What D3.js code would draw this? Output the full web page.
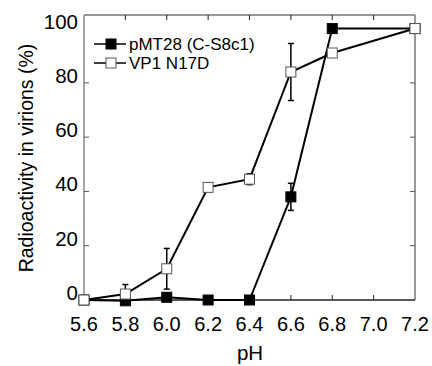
<!DOCTYPE html>
<html>
<head>
<meta charset="utf-8">
<script src="https://cdn.jsdelivr.net/npm/d3@7"></script>
<style>
  body { margin: 0; background: #fff; }
  text { font-family: "Liberation Sans", Arial, sans-serif; fill: #000; }
</style>
</head>
<body>
<div class="chart"></div>
<script>
var phValues = [5.6, 5.8, 6.0, 6.2, 6.4, 6.6, 6.8, 7.2];
var mutantPh = [5.6, 5.8, 6.0, 6.2, 6.4, 6.6, 6.8, 7.2];
var mutantVals = [0, -0.3, 1, 0, 0, 38, 100, 100];
var mutantErr = [0, 0, 0, 0, 0, 5, 0, 0];
var wildVals = [0, 2.2, 11.5, 41.5, 44.5, 84, 91, 100];
var wildErr = [0, 3.5, 7.5, 1.5, 2, 10.5, 0, 0];
var xTicks = [5.6, 5.8, 6.0, 6.2, 6.4, 6.6, 6.8, 7.0, 7.2];
var yTicks = [0, 20, 40, 60, 80, 100];
var seriesNames = ["pMT28 (C-S8c1)", "VP1 N17D"];

(function drawChart() {
	"use strict";
	var width = 432, height = 366;
	var left = 84, right = 415, top = 15, bottom = 300;

	var svg = d3.select(".chart")
				.append("svg")
				.attr("width", width)
				.attr("height", height);

	var xScale = d3.scaleLinear().domain([5.6, 7.2]).range([left, right]);
	var yScale = d3.scaleLinear().domain([0, 105]).range([bottom, top]);

	// frame
	svg.append("line").attr("x1", left).attr("x2", right).attr("y1", top).attr("y2", top)
	   .attr("stroke", "#333").attr("stroke-width", 1.2);
	svg.append("line").attr("x1", right).attr("x2", right).attr("y1", top).attr("y2", bottom)
	   .attr("stroke", "#777").attr("stroke-width", 1.5);
	svg.append("line").attr("x1", left).attr("x2", left).attr("y1", top).attr("y2", bottom)
	   .attr("stroke", "#888").attr("stroke-width", 1.5);
	svg.append("line").attr("x1", left).attr("x2", right).attr("y1", bottom).attr("y2", bottom)
	   .attr("stroke", "#222").attr("stroke-width", 1.5);

	var tickLen = 5;
	// x ticks (bottom + top, inward)
	xTicks.slice(1, -1).forEach(function(t) {
		var x = xScale(t);
		svg.append("line").attr("x1", x).attr("x2", x).attr("y1", bottom).attr("y2", bottom - tickLen)
		   .attr("stroke", "#222").attr("stroke-width", 1);
		svg.append("line").attr("x1", x).attr("x2", x).attr("y1", top).attr("y2", top + tickLen)
		   .attr("stroke", "#222").attr("stroke-width", 1);
	});
	xTicks.forEach(function(t) {
		svg.append("text")
		   .attr("x", xScale(t))
		   .attr("y", 331)
		   .attr("text-anchor", "middle")
		   .style("font-size", "20px")
		   .text(d3.format(".1f")(t));
	});

	// y ticks (left + right, inward)
	yTicks.slice(1, -1).forEach(function(t) {
		var y = yScale(t);
		svg.append("line").attr("x1", left).attr("x2", left + tickLen).attr("y1", y).attr("y2", y)
		   .attr("stroke", "#555").attr("stroke-width", 1);
		svg.append("line").attr("x1", right).attr("x2", right - tickLen).attr("y1", y).attr("y2", y)
		   .attr("stroke", "#555").attr("stroke-width", 1);
	});
	yTicks.forEach(function(t) {
		svg.append("text")
		   .attr("x", 78)
		   .attr("y", yScale(t))
		   .attr("text-anchor", "end")
		   .style("font-size", "20.5px")
		   .text(t);
	});

	svg.append("text")
	   .attr("transform", "translate(33," + 158 + ") rotate(-90)")
	   .attr("text-anchor", "middle")
	   .style("font-size", "19.5px")
	   .text("Radioactivity in virions (%)");

	svg.append("text")
	   .attr("x", 250)
	   .attr("y", 360)
	   .attr("text-anchor", "middle")
	   .style("font-size", "20.5px")
	   .text("pH");

	var line = d3.line()
				 .x(function(d) { return xScale(d[0]); })
				 .y(function(d) { return yScale(d[1]); });

	function drawSeries(xs, vals, errs, fill) {
		var pts = xs.map(function(x, i) { return [x, vals[i], errs[i]]; });
		svg.append("path")
		   .datum(pts)
		   .attr("d", line)
		   .attr("fill", "none")
		   .attr("stroke", "#000")
		   .attr("stroke-width", 2);
		var withErr = pts.filter(function(d) { return d[2] > 0; });
		var g = svg.append("g").attr("stroke", "#000").attr("stroke-width", 1.5);
		g.selectAll("line.v").data(withErr).enter().append("line")
		 .attr("x1", function(d) { return xScale(d[0]); })
		 .attr("x2", function(d) { return xScale(d[0]); })
		 .attr("y1", function(d) { return yScale(d[1] - d[2]); })
		 .attr("y2", function(d) { return yScale(d[1] + d[2]); });
		[1, -1].forEach(function(s) {
			g.selectAll("line.cap" + s).data(withErr).enter().append("line")
			 .attr("x1", function(d) { return xScale(d[0]) - 3; })
			 .attr("x2", function(d) { return xScale(d[0]) + 3; })
			 .attr("y1", function(d) { return yScale(d[1] + s * d[2]); })
			 .attr("y2", function(d) { return yScale(d[1] + s * d[2]); });
		});
		svg.selectAll(null).data(pts).enter().append("rect")
		   .attr("x", function(d) { return xScale(d[0]) - 5; })
		   .attr("y", function(d) { return yScale(d[1]) - 5; })
		   .attr("width", 10)
		   .attr("height", 10)
		   .attr("fill", fill)
		   .attr("stroke", fill === "#000" ? "#000" : "#555")
		   .attr("stroke-width", 1);
	}

	drawSeries(mutantPh, mutantVals, mutantErr, "#000");
	drawSeries(phValues, wildVals, wildErr, "#fff");

	// legend
	var legend = svg.append("g");
	seriesNames.forEach(function(name, i) {
		var y = 44 + i * 19;
		legend.append("line").attr("x1", 94).attr("x2", 126).attr("y1", y).attr("y2", y)
			  .attr("stroke", "#000").attr("stroke-width", 1.5);
		legend.append("rect").attr("x", 106).attr("y", y - 5).attr("width", 10).attr("height", 10)
			  .attr("fill", i === 0 ? "#000" : "#fff")
			  .attr("stroke", i === 0 ? "#000" : "#555");
		legend.append("text").attr("x", 129).attr("y", y + 6)
			  .style("font-size", "17px")
			  .text(name);
	});
}());
</script>
</body>
</html>
